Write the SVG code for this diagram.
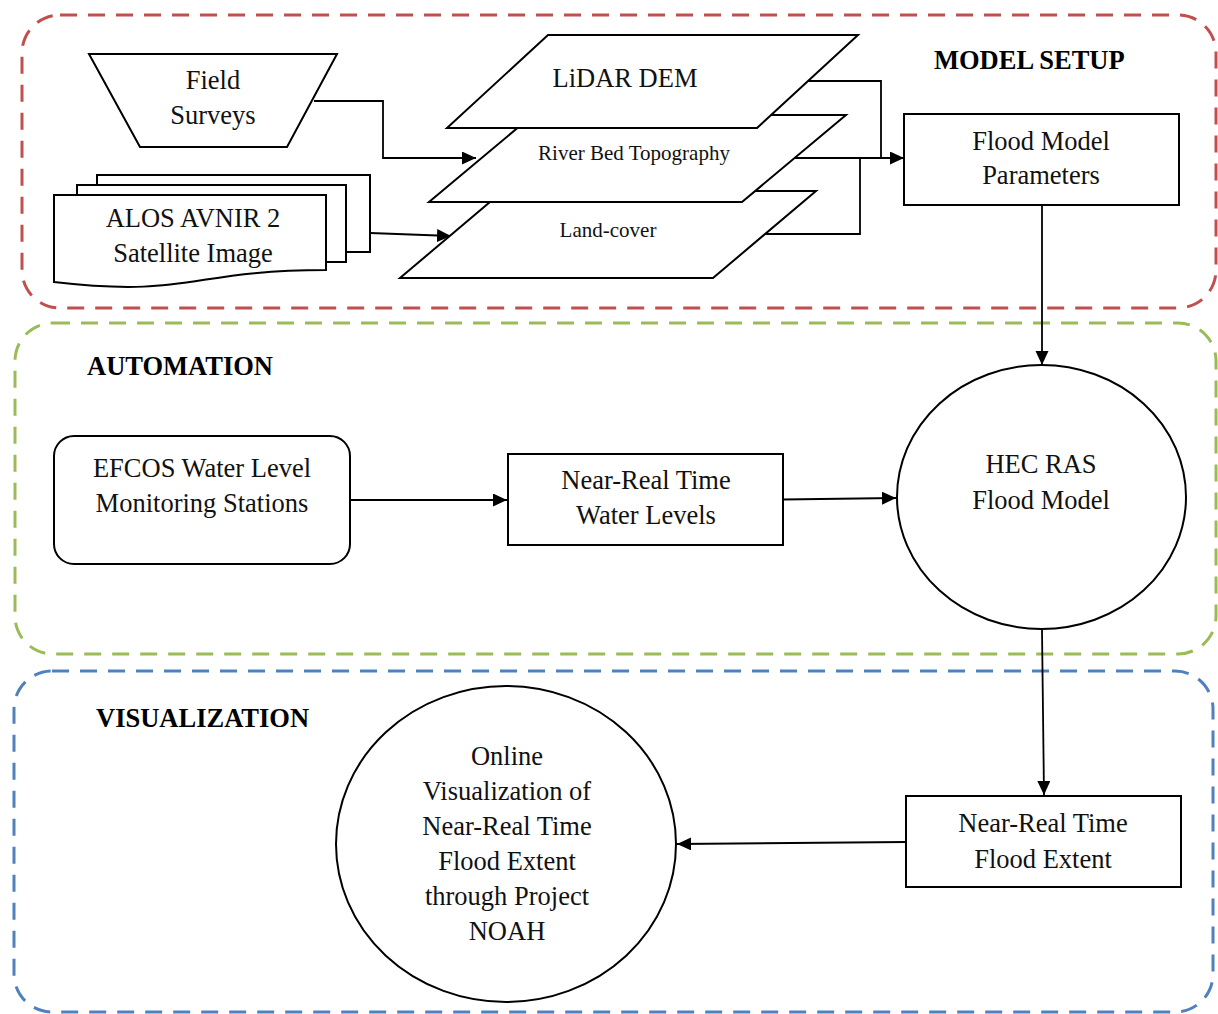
<svg xmlns="http://www.w3.org/2000/svg" width="1218" height="1014" viewBox="0 0 1218 1014">
<style>
.t{font-family:"Liberation Serif","Times New Roman",serif;font-size:26.5px;fill:#111;text-anchor:middle}
.s{font-size:21px}
.h{font-family:"Liberation Serif","Times New Roman",serif;font-size:26.5px;font-weight:bold;fill:#000}
.n{fill:#fff;stroke:#000;stroke-width:2}
.c{fill:none;stroke:#000;stroke-width:1.8}
.f{fill:none;stroke-width:3;stroke-dasharray:17 11}
</style>
<defs>
<marker id="a" markerUnits="userSpaceOnUse" markerWidth="15" markerHeight="14" refX="14" refY="6.5" orient="auto">
<path d="M0,0 L14,6.5 L0,13 z" fill="#000"/>
</marker>
</defs>
<rect fill="#fff" width="1218" height="1014"/>
<g id="frames">
<rect class="f" x="22" y="15" width="1194" height="293" rx="38" stroke="#C0504D"/>
<rect class="f" x="15" y="323" width="1201" height="331" rx="38" stroke="#9BBB59"/>
<rect class="f" x="14" y="671" width="1199" height="341" rx="38" stroke="#4F81BD"/>
</g>
<g id="titles">
<text class="h" x="934" y="69">MODEL SETUP</text>
<text class="h" x="87" y="375">AUTOMATION</text>
<text class="h" x="96" y="727">VISUALIZATION</text>
</g>
<g id="connectors">
<polyline class="c" points="314,101 383,101 383,158 476,158" marker-end="url(#a)"/>
<line class="c" x1="370" y1="233" x2="451" y2="236" marker-end="url(#a)"/>
<polyline class="c" points="808,81 881,81 881,158 904,158" marker-end="url(#a)"/>
<line class="c" x1="795" y1="158" x2="881" y2="158"/>
<polyline class="c" points="765,234 860,234 860,158"/>
<line class="c" x1="1042" y1="205" x2="1042" y2="365" marker-end="url(#a)"/>
<line class="c" x1="350" y1="500" x2="507" y2="500" marker-end="url(#a)"/>
<line class="c" x1="783" y1="499.5" x2="896" y2="498" marker-end="url(#a)"/>
<line class="c" x1="1042" y1="630" x2="1044" y2="795" marker-end="url(#a)"/>
<line class="c" x1="906" y1="842" x2="677" y2="844" marker-end="url(#a)"/>
</g>
<g id="field-surveys">
<polygon class="n" points="89,54 337,54 287,147 140,147"/>
<text class="t" x="213" y="89">Field</text>
<text class="t" x="213" y="124">Surveys</text>
</g>
<g id="alos">
<rect class="n" x="97" y="175" width="273" height="77"/>
<rect class="n" x="77" y="185" width="269" height="77"/>
<path class="n" d="M54,195 L326,195 L326,270 C190,270 190,298 54,282 Z"/>
<text class="t" x="193" y="227">ALOS AVNIR 2</text>
<text class="t" x="193" y="262">Satellite Image</text>
</g>
<g id="land-cover">
<polygon class="n" points="503,191 816,191 713,278 400,278"/>
<text class="t s" x="608" y="237">Land-cover</text>
</g>
<g id="river-bed">
<polygon class="n" points="533,115 846,115 742,202 429,202"/>
<text class="t s" x="634" y="160">River Bed Topography</text>
</g>
<g id="lidar">
<polygon class="n" points="548,35 858,35 757,128 447,128"/>
<text class="t" x="625" y="87">LiDAR DEM</text>
</g>
<g id="flood-model-parameters">
<rect class="n" x="904" y="114" width="275" height="91"/>
<text class="t" x="1041" y="150">Flood Model</text>
<text class="t" x="1041" y="184">Parameters</text>
</g>
<g id="hec-ras">
<ellipse class="n" cx="1041.5" cy="497" rx="144.5" ry="132"/>
<text class="t" x="1041" y="473">HEC RAS</text>
<text class="t" x="1041" y="509">Flood Model</text>
</g>
<g id="efcos">
<rect class="n" x="54" y="436" width="296" height="128" rx="20"/>
<text class="t" x="202" y="477">EFCOS Water Level</text>
<text class="t" x="202" y="512">Monitoring Stations</text>
</g>
<g id="water-levels">
<rect class="n" x="508" y="454" width="275" height="91"/>
<text class="t" x="646" y="489">Near-Real Time</text>
<text class="t" x="646" y="524">Water Levels</text>
</g>
<g id="flood-extent">
<rect class="n" x="906" y="796" width="275" height="91"/>
<text class="t" x="1043" y="832">Near-Real Time</text>
<text class="t" x="1043" y="868">Flood Extent</text>
</g>
<g id="online-visualization">
<ellipse class="n" cx="506" cy="844" rx="170" ry="158"/>
<text class="t" x="507" y="765">Online</text>
<text class="t" x="507" y="800">Visualization of</text>
<text class="t" x="507" y="835">Near-Real Time</text>
<text class="t" x="507" y="870">Flood Extent</text>
<text class="t" x="507" y="905">through Project</text>
<text class="t" x="507" y="940">NOAH</text>
</g>
</svg>
